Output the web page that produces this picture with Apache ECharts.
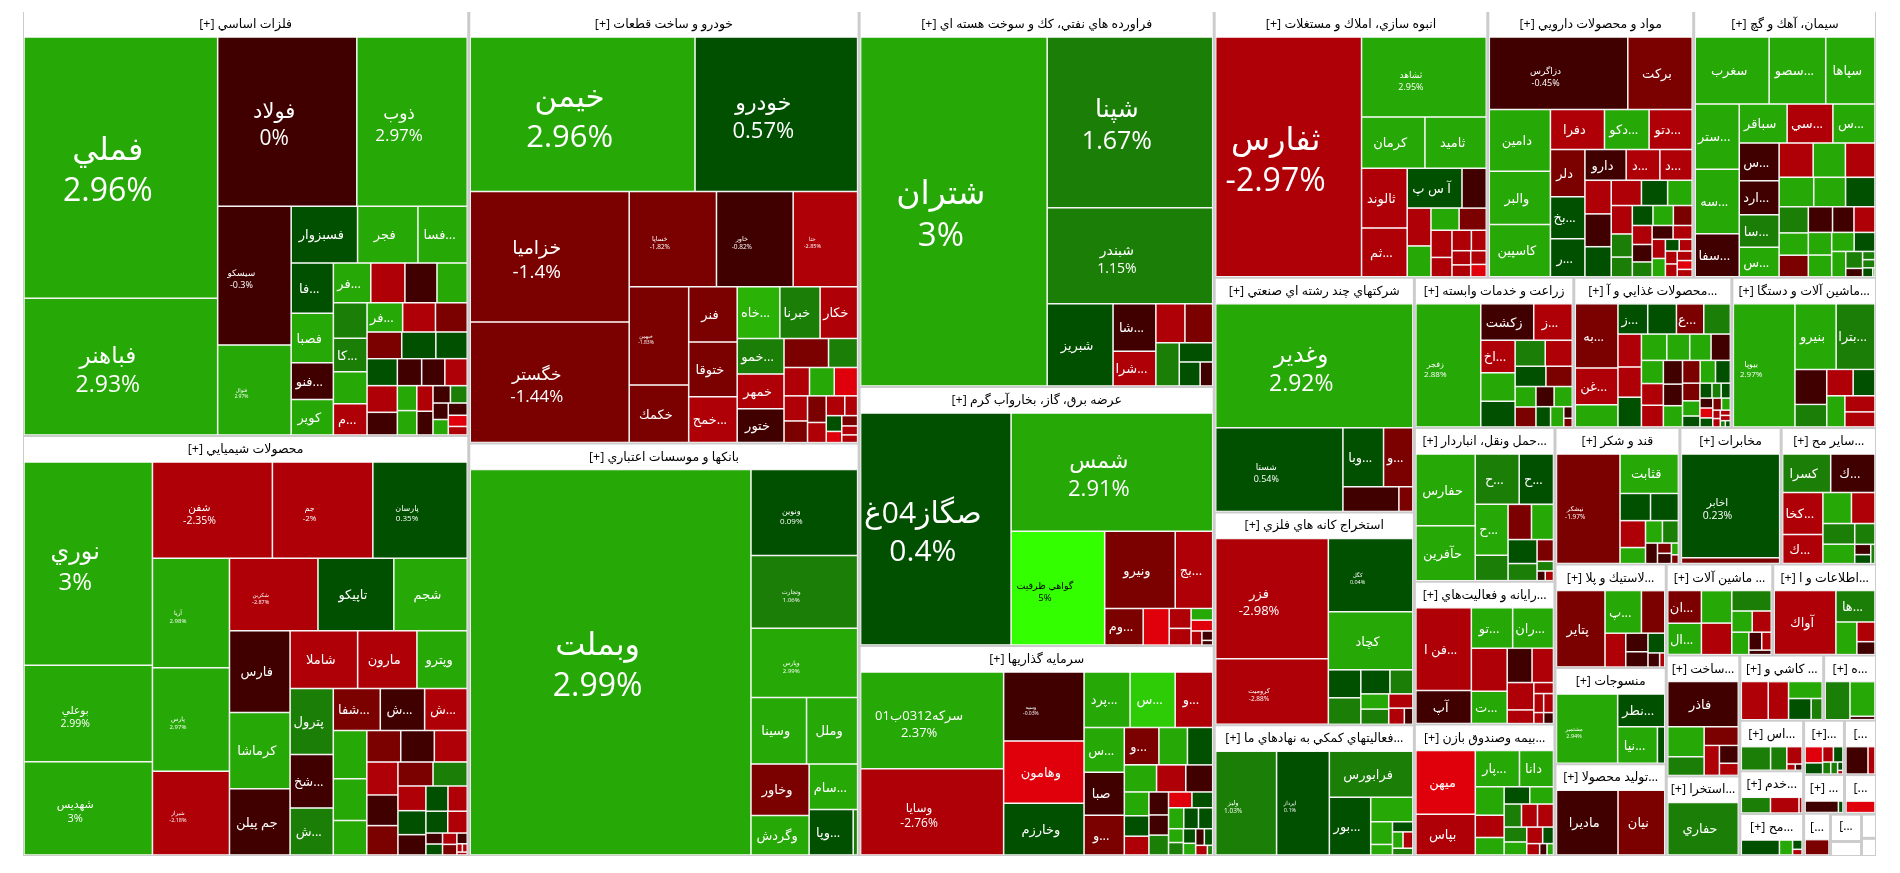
<!DOCTYPE html>
<html>
<head>
<meta charset="utf-8">
<title>نقشه بازار</title>
<script src="https://cdn.jsdelivr.net/npm/echarts@6/dist/echarts.min.js"></script>
<style>
    html, body { margin: 0; padding: 0; background: #fff; }
    #main { width: 1900px; height: 873px; }
</style>
</head>
<body>
<div id="main" dir="rtl"></div>
<script>
// sector titles and sizes (area, px2 / 100)
var sectorNames = [
    'فلزات اساسي [+]', 'محصولات شيميايي [+]', 'خودرو و ساخت قطعات [+]', 'بانكها و موسسات اعتباري [+]',
    'فراورده هاي نفتي، كك و سوخت هسته اي [+]', 'عرضه برق، گاز، بخاروآب گرم [+]', 'سرمايه گذاريها [+]',
    'انبوه سازي، املاك و مستغلات [+]', 'مواد و محصولات دارويي [+]', 'سيمان، آهك و گچ [+]',
    'شركتهاي چند رشته اي صنعتي [+]', 'استخراج كانه هاي فلزي [+]', '...فعاليتهاي كمكي به نهادهاي ما [+]',
    'زراعت و خدمات وابسته [+]', '...محصولات غذايي و آ [+]', '...ماشين آلات و دستگا [+]',
    '...حمل ونقل، انباردار [+]', '...رايانه و فعاليت‌هاي [+]', '...بيمه وصندوق بازن [+]',
    'قند و شكر [+]', 'مخابرات [+]', '...ساير مح [+]',
    '...لاستيك و پلا [+]', 'منسوجات [+]', '...توليد محصولا [+]',
    '... ماشين آلات [+]', '...اطلاعات و ا [+]',
    '...ساخت [+]', '...استخرا [+]', '... كاشي و [+]', '...ه [+]',
    '...اس [+]', '...خدم [+]', '...مح [+]',
    '...[+]', '...]', '... [+]', '...]', '...]', '...]', '', '', ''
];
var sectorSizes = [
    1878, 1856, 1672, 1594, 1322, 911, 738, 723, 544, 483, 465, 422, 259,
    237, 235, 215, 214, 199, 183, 169, 137, 129, 114, 106, 101, 96, 93.5,
    88, 58, 54, 34, 32, 27, 26.5, 22, 17.3, 15.6, 12.2, 11.3, 8.4, 4.6, 3.6, 2.7
];

// leaves of every sector, same order as sectorNames
var leafNames = [
    ['فملي','فباهنر','فولاد','ذوب','سيسكو','فنوال','فسبزوار','فجر','...فسا','...فا','فصبا','...فنو','كوير','...فر','','','','','...كا','','...م','...فر','','','','','','','','','','','','','','','','','','','',''],
    ['نوري','بوعلي','شهديس','شفن','جم','پارسان','آريا','پارس','شيراز','شكربن','تاپيكو','شجم','فارس','كرماشا','جم پيلن','شاملا','مارون','وپترو','پترول','...شخ','...ش','...شفا','...ش','...ش','','','','','','','','','','','','','','','','','','','','','','','','','',''],
    ['خيمن','خودرو','خزاميا','خگستر','خساپا','خاور','ختا','خبهمن','خكمك','فنر','ختوقا','...خمح','...خاه','خبرنا','خكار','...خمو','خمهر','ختور','','','','','','','','','','','','','','','',''],
    ['وبملت','ونوين','وتجارت','وپارس','وسينا','وملل','وخاور','وگردش','...سام','...وپا',''],
    ['شتران','شپنا','شبندر','شبريز','...شا','...شرا','','','','','',''],
    ['صگاز04غ','شمس','گواهي ظرفيت','ونيرو','...بج','...وم','','','','','','','',''],
    ['سركه0312ب01','وسايا','وسپه','وهامون','وخارزم','...پرد','...س','...و','...س','صبا','...و','...و','','','','','','','','','','','','','','','','','','','','','','','',''],
    ['ثفارس','ثشاهد','كرمان','ثاميد','ثالوند','...ثم','آ س پ','','','','','','','','','','','','',''],
    ['دزاگرس','بركت','دامين','والبر','كاسپين','دفرا','...دكو','...دتو','دلر','...بخ','...ر','دارو','...د','...د','','','','','','','','','','','','','','','','','','','','','','','','','',''],
    ['سغرب','...سصو','سپاها','...ستر','...سه','...سفا','سباقر','...سي','...س','...س','...ارد','...سا','...س','','','','','','','','','','','','','','','','','','','','','','',''],
    ['وغدير','شستا','...وبا','...و','',''],
    ['فزر','كروميت','كگل','كچاد','','','','','','','','',''],
    ['وليز','اپرداز','فرابورس','...بور','','','','','','',''],
    ['زفجر','زكشت','...ز','...اخ','','','','','','','','','','','','','',''],
    ['...به','...غن','','...ز','','...ع','','','','','','','','','','','','','','','','','','','','','','','','','','','','','','','','','',''],
    ['بيوپا','بنيرو','...بترا','','','','','','',''],
    ['حفارس','حآفرين','...ح','...ح','...ح','','','','','','','','',''],
    ['...فن ا','آپ','...تو','...ران','','...ت','','','','','','','','',''],
    ['ميهن','بپاس','...پار','دانا','','','','','','','','','','','','','','',''],
    ['نيشكر','قثابت','','','','','','','','','','',''],
    ['اخابر',''],
    ['كسرا','...ك','...كخا','...ك','','','','','','','',''],
    ['پتاير','...پ','','','','','','',''],
    ['مشتمير','...نطر','...نيا',''],
    ['ماديرا','نيان'],
    ['...ان','...ال','','','','','','','','',''],
    ['آواك','...ها','','',''],
    ['فاذر','','','','','',''],
    ['حفاري'],
    ['','','','',''],
    ['','',''],
    ['','','','',''],
    ['','',''],
    ['','','',''],
    ['','','','','','','',''],
    ['',''],
    ['',''],
    [''],
    [''],
    [], [], [], []
];
var leafSizes = [
    [501,262,233,185,101,65.5,37.4,34,27.8,21,20.6,15.4,14.8,14.7,13.4,12.6,11.9,11.8,11.2,10.7,10.4,10.3,9.5,9.2,9.15,9,8.3,8.1,6.5,6.2,6,8,6.8,4.8,4.7,4.1,3.8,3,2.9,2.5,2.35,2.3,2.1,1.6],
    [257,122,118,113.8,95.3,89.6,83,78.4,63.6,63,54,52.3,48.9,45.5,39.5,38.5,33.8,28.7,28,22.8,20,19.4,18.3,17.6,15.9,13.8,11.4,10.5,10.4,10.2,10.1,8.3,8.1,9.4,9,6.8,6.6,5.6,5.5,4.8,1.8,1.8,4.7,4.2,1.6,1.5,1.1,0.45,0.4,0.3],
    [341,246.7,203.7,188.4,81.8,71.9,60.4,57.4,33.6,26.3,26.1,21.8,21.6,20.4,19,16.3,16,15.6,12.7,8.3,7.1,6.9,6.5,5.8,5,4.9,3.7,3.6,2.5,2.4,1.6,1.7,1.4,1.2],
    [1080,91.4,77.5,73.6,37,34,29.8,23,22,20,2],
    [649,281.6,158.4,54,20.3,14.8,11.3,10.8,10.1,6.4,5,3],
    [343.5,234.5,104.8,53.5,28.4,13.9,9.4,4.3,3.6,2.5,2.3,1.5,1,0.5],
    [134.7,120,53.9,48.8,40.5,24.8,24.3,20.2,17.6,16.8,15.6,12.6,10.4,9.2,8.5,7.7,7.1,5.7,4.4,3.6,3,2.9,4.9,4.5,3.85,3.8,3.2,3.1,2,1.8,1.75,1.35,1.4,1.4,1.1,0.5],
    [343,98,31.8,30.8,26.7,21.9,21.4,9.5,8.8,7.2,6.1,5.9,5.6,4,3.9,3,2.6,2.2,2.1,1.9],
    [98.9,46,37,32,31.5,21.2,17.5,16.9,16,14.3,12.9,12.5,10.2,9.8,8.7,8.5,7.8,7.5,6.5,6.1,5.9,4.8,4.1,4.05,4,3.7,3.7,2.85,2.5,2.6,3.4,2.9,2.4,1.6,1.4,1.5,1.5,1.5,1.3,1.1],
    [48.6,37.2,32.4,28.2,28,18.6,18.3,17.5,16.1,14.8,13.3,12.7,11.6,11.5,10.9,10,10,9.2,8.5,7.5,6.1,5.2,5,6.4,5.4,4.2,3.5,6.2,5.3,3.9,2.8,1.4,1,1,0.9,0.2],
    [212,92.4,20.8,15,12,3],
    [118,64.2,54,42.6,7.9,7.5,6.1,4.8,3.7,3.7,3,2.2,1.2],
    [54.9,47.6,33.3,20.8,9,4.3,2,1.8,1.5,1.4,1.2],
    [80.7,19.5,14.2,11.3,9.9,8.9,7.9,7.1,6.3,5.4,4.3,3.7,3.7,4.2,3,2.7,1,0.75],
    [25.8,14.8,9,8.5,8.2,7.8,7.6,7.3,6.7,6.6,6.3,5.7,5.3,4.8,4.8,4.5,4.5,4.3,3.9,3.85,3.8,3.2,2.5,1.8,1.7,3.3,2.9,1.2,1.2,1.1,1.3,1.3,1,1,0.6,0.6,0.5,0.5,0.3,0.3],
    [75,26.7,25.2,11,7.1,6.9,5.7,5.6,4.8,4.5],
    [43,32.8,22.3,17.4,16.8,8.4,8.3,7.8,7,3.6,5,1.6,0.8,0.8],
    [46.8,18.6,17,16.8,15.7,11.8,8.7,7.5,7.4,3.7,2.2,1.9,1.9,1.1,1.1],
    [36,23,15.2,11.7,7.8,6.1,4.8,4.2,3.9,3.8,3.5,3.5,3.2,2.8,1.7,2.5,1.4,0.8,0.7],
    [68,22.5,8.1,7.4,6.7,4,3.7,3.5,2.4,1.4,1.4,0.8,0.6],
    [100.7,5.7],
    [18,16.6,16.4,11.4,8.6,7.1,6.4,4.1,6,1.6,1.4,0.8],
    [35.9,15,9.6,6.8,4,3.3,3.2,1.6,0.7],
    [42.9,15.6,14.7,2.7],
    [38.2,29],
    [10.9,10.5,9.8,9.5,8,4.3,4,3.8,2.3,1.7,1],
    [38.6,12,6.7,3.5,2.3],
    [32,11,6.8,6.4,4.6,3.4,2.3],
    [36.9],
    [10.1,7.6,5.6,4.7,2.3],
    [9,8.3,0.8],
    [6.5,3.6,2.5,0.5,0.4],
    [4.7,4.6,0.5],
    [5.8,2,0.9,0.55],
    [2.9,1.7,1.5,2,0.85,1,0.45,0.2],
    [6,1.9],
    [3.6,0.5],
    [3.1],
    [3.2],
    [], [], [], []
];
// daily change in percent; cells with no printed label are estimated from their colour
var leafPct = [
    [2.96,2.93,0,2.97,-0.3,2.97,0.4,2.9,2.9,0.4,2.9,-0.4,2.9,2.9,-2.5,-0.4,2.9,1.2,1.2,2.9,-2.5,2.9,-2.5,-1.4,-1.4,0.4,0.4,0.4,-0.4,-0.4,-2.5,-2.5,-0.4,2.9,2.9,-2.5,-0.4,-0.4,1.2,-0.4,2.9,-0.4,-4,-2.5],
    [3,2.99,3,-2.35,-2,0.35,2.98,2.97,-2.18,-2.87,0.4,2.9,-0.4,2.9,-0.4,-2.5,-2.5,2.9,1.2,-0.4,1.2,-1.4,-0.4,-2.5,2.9,2.9,2.9,-1.4,-0.4,-2.5,-2.5,-1.4,1.2,-0.4,-1.4,-2.5,0.4,-0.4,0.4,-2.5,0.4,-0.4,0.4,-2.5,-2.5,-1.4,-0.4,-2.5,-2.5,-2.5],
    [2.96,0.57,-1.4,-1.44,-1.82,-0.82,-2.85,-1.83,-1.5,-1.5,-1.5,-2.5,3.2,1.2,-2.5,1.2,-2.5,-0.4,-1.4,1.2,-2.5,2.9,-4,-2.5,-1.4,-1.4,-2.5,-2.5,-2.5,0.4,-1.4,-4,-2.5,-2.5],
    [2.99,0.09,1.06,2.99,2.9,2.9,-1.4,2.9,2.9,0.4,1.2],
    [3,1.67,1.15,0.4,-0.4,-2.5,-2.5,-1.4,1.2,0.4,0.4,-0.4],
    [0.4,2.91,5,-1.4,-2.5,-1.4,-4,-2.5,-2.5,2.9,-4,-2.5,-0.4,-0.4],
    [2.37,-2.76,-0.03,-4,0.4,2.9,3.5,-2.5,2.9,-0.4,-1.4,-1.4,2.9,0.4,2.9,-2.5,-0.4,2.9,-0.4,-4,0.4,0.4,0.4,-2.5,-0.4,1.2,0.4,2.9,2.9,1.2,0.4,0.4,-0.4,2.9,-2.5,1.2],
    [-2.97,2.95,2.9,2.9,-2.5,-2.5,0.4,-0.4,-2.5,2.9,2.9,-1.4,-2.5,-2.5,-2.5,-2.5,-2.5,-2.5,-2.5,-4],
    [-0.45,-1.4,2.9,2.9,2.9,-2.5,2.9,-2.5,-1.4,0.4,0.4,-0.4,-2.5,-2.5,-2.5,-0.4,0.4,-2.5,0.4,2.9,-2.5,1.2,1.2,0.4,2.9,-2.5,-1.4,-0.4,-2.5,-2.5,-0.4,1.2,2.9,0.4,-2.5,-2.5,-2.5,-2.5,-4,-2.5],
    [2.9,2.9,2.9,2.9,2.9,-0.4,2.9,-2.5,2.9,-0.4,-0.4,1.2,2.9,-2.5,2.9,2.9,-2.5,2.9,0.4,1.2,-0.4,2.9,2.9,2.9,-0.4,2.9,2.9,-1.4,-2.5,0.4,1.2,-0.4,1.2,1.2,0.4,2.9],
    [2.92,0.54,0.4,-1.4,-0.4,-1.4],
    [-2.98,-2.88,0.04,2.9,0.4,1.2,0.4,1.2,1.2,2.9,-2.5,-2.5,-0.4],
    [1.03,0.1,1.2,0.4,2.9,2.9,2.9,0.4,2.9,-2.5,1.2],
    [2.88,-0.4,-2.5,-2.5,2.9,0.4,1.2,-2.5,0.4,-1.4,2.9,2.9,-0.4,-1.4,0.4,2.9,-0.4,-1.4],
    [-1.4,-2.5,2.9,0.4,0.4,-1.4,1.2,-2.5,-2.5,0.4,2.9,2.9,2.9,2.9,-0.4,-2.5,-2.5,-0.4,-0.4,2.9,-1.4,0.4,2.9,0.4,0.4,2.9,-1.4,-4,-0.4,0.4,0.4,1.2,2.9,-1.4,-2.5,-2.5,-2.5,-2.5,0.4,1.2],
    [2.97,2.9,1.2,-0.4,1.2,-2.5,0.4,2.9,-2.5,-2.5],
    [2.9,2.9,1.2,0.4,2.9,1.2,-1.4,2.9,0.4,-1.4,1.2,1.2,-2.5,-0.4],
    [-2.5,-0.4,2.9,2.9,-2.5,2.9,-0.4,-2.5,-2.5,-2.5,-2.5,-2.5,-2.5,-0.4,-2.5],
    [-4,-2.5,2.9,2.9,2.9,-2.5,2.9,0.4,2.9,1.2,-2.5,-2.5,1.2,2.9,0.4,-2.5,-2.5,-0.4,2.9],
    [-1.97,2.9,0.4,0.4,-2.5,2.9,2.9,1.2,-0.4,-0.4,-1.4,2.9,-1.4],
    [0.23,-1.4],
    [1.2,-0.4,-2.5,-2.5,2.9,-2.5,1.2,1.2,2.9,-0.4,0.4,1.2],
    [-1.4,2.9,-1.4,-2.5,-0.4,-0.4,0.4,-0.4,-2.5],
    [2.94,0.4,2.9,0.4],
    [-0.4,-1.4],
    [-1.4,2.9,2.9,-2.5,1.2,2.9,-2.5,2.9,-0.4,-2.5,-0.4],
    [-2.5,1.2,2.9,-2.5,-0.4],
    [-0.4,2.9,1.2,-1.4,-2.5,-0.4,-2.5],
    [1.2],
    [-2.5,-2.5,2.9,0.4,1.2],
    [1.2,2.9,-0.4],
    [1.2,1.2,-2.5,-2.5,-0.4],
    [1.2,-2.5,-2.5],
    [0.4,2.9,0.4,-2.5],
    [-4,-2.5,0.4,0.4,1.2,1.2,0.4,-2.5],
    [-0.4,-2.5],
    [-0.4,0.4],
    [-4],
    [-1.4],
    [], [], [], []
];

// text sizes of the cells that print name and percent
var pctFonts = {
    'فملي': 32, 'فباهنر': 23, 'فولاد': 21, 'ذوب': 17, 'سيسكو': 9, 'فنوال': 5,
    'نوري': 24, 'بوعلي': 10.5, 'شهديس': 11, 'شفن': 10.5, 'جم': 8, 'پارسان': 8, 'آريا': 6, 'پارس': 6, 'شيراز': 5.5, 'شكربن': 5.5,
    'خيمن': 31, 'خودرو': 22, 'خزاميا': 19, 'خگستر': 17, 'خساپا': 6.5, 'خاور': 6.5, 'ختا': 5.5, 'خبهمن': 5,
    'وبملت': 32, 'ونوين': 8, 'وتجارت': 6, 'وپارس': 6,
    'شتران': 33, 'شپنا': 25, 'شبندر': 14,
    'صگاز04غ': 30, 'شمس': 22, 'گواهي ظرفيت': 9.5,
    'سركه0312ب01': 13, 'وسايا': 12, 'وسپه': 5,
    'ثفارس': 32, 'ثشاهد': 9, 'دزاگرس': 9, 'وغدير': 23, 'شستا': 9,
    'فزر': 13, 'كروميت': 6.5, 'كگل': 5.5, 'وليز': 6.5, 'اپرداز': 5.5,
    'زفجر': 8, 'بيوپا': 8, 'نيشكر': 6.5, 'اخابر': 10.5, 'مشتمير': 5.5
};

function pctColor(p) {
    if (p >= 4) return '#33ff00';
    if (p >= 3.4) return '#2ecc07';
    if (p >= 3.05) return '#2ab206';
    if (p >= 2) return '#26a806';
    if (p >= 1) return '#1b7e06';
    if (p > 0) return '#005000';
    if (p > -1) return '#400000';
    if (p > -2) return '#7b0000';
    if (p > -3) return '#af0008';
    return '#e0000c';
}

var fontStack = '"Open Sans", "DejaVu Sans", sans-serif';

function buildLeaf(name, size, pct) {
    var font = pctFonts[name];
    return {
        name: name,
        value: size,
        pct: pct,
        itemStyle: {color: pctColor(pct)},
        label: {
            fontSize: font || 13,
            lineHeight: Math.round((font || 13) * 1.28),
            color: pct >= 4 ? '#000' : '#fff',
            offset: font ? [-13, 4] : [-3, 1]
        }
    };
}

var treeData = sectorNames.map(function (title, i) {
    var node = {
        name: title,
        value: sectorSizes[i],
        itemStyle: {color: '#fff'}
    };
    if (leafSizes[i].length) {
        node.children = leafSizes[i].map(function (size, j) {
            return buildLeaf(leafNames[i][j], size, leafPct[i][j]);
        });
    } else {
        node.label = {show: true, position: 'insideTop', color: '#000', fontSize: 12};
    }
    return node;
});

var myChart = echarts.init(document.getElementById('main'), null, {renderer: 'canvas'});
myChart.setOption({
    animation: false,
    tooltip: {show: false},
    series: [{
        type: 'treemap',
        left: 23,
        top: 12,
        width: 1853,
        height: 844,
        roam: false,
        nodeClick: false,
        squareRatio: 1,
        visibleMin: 0,
        breadcrumb: {show: false},
        label: {
            show: true,
            fontFamily: fontStack,
            overflow: 'none',
            formatter: function (params) {
                if (!params.data.pct && params.data.pct !== 0) return params.name;
                if (pctFonts[params.name]) return params.name + '\n\u200E' + params.data.pct + '%';
                return params.name;
            }
        },
        levels: [
            {itemStyle: {borderWidth: 0, gapWidth: 1, borderColor: '#ccc'}},
            {
                itemStyle: {borderWidth: 1, gapWidth: 0, borderColor: '#ccc'},
                upperLabel: {
                    show: true,
                    height: 25,
                    position: 'inside',
                    color: '#000',
                    fontSize: 12.5,
                    fontFamily: fontStack,
                    backgroundColor: '#fff',
                    verticalAlign: 'middle',
                    overflow: 'none'
                }
            },
            {itemStyle: {borderWidth: 0.75, gapWidth: 0, borderColor: '#fff'}}
        ],
        data: treeData
    }]
});
</script>
</body>
</html>
